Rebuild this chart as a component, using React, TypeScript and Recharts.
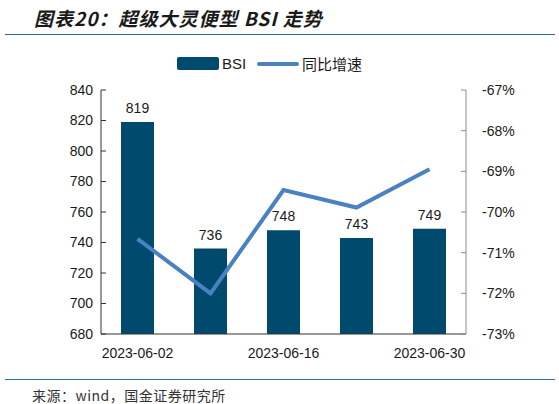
import React from "react";
import {
  Bar,
  ComposedChart,
  LabelList,
  Line,
  XAxis,
  YAxis,
} from "recharts";

const dates = ["2023-06-02", "2023-06-09", "2023-06-16", "2023-06-23", "2023-06-30"];
const bsi = [819, 736, 748, 743, 749];
const yoy = [-70.66, -72.0, -69.46, -69.89, -68.95];
const leftTicks = [680, 700, 720, 740, 760, 780, 800, 820, 840];
const rightTicks = [-73, -72, -71, -70, -69, -68, -67];
const edgeTicks = [0, 1, 2, 3, 4, 5];
const seriesNames = ["BSI", "同比增速"];

const BAR = "#004a6e";
const LINE = "#4a81c0";
const RULE = "#2b6f99";
const FONT = "'Liberation Sans', Arial, sans-serif";
const CJK = "'Noto Sans CJK SC', sans-serif";

const data = dates.map((date, i) => ({ date, bsi: bsi[i], yoy: yoy[i] }));

export default function App() {
  const tickStyle = { fontSize: 14, fill: "#1a1a1a", fontFamily: FONT };
  return (
    <div
      style={{
        position: "absolute",
        left: 0,
        top: 0,
        width: 559,
        height: 404,
        background: "#fff",
        fontFamily: FONT,
      }}
    >
      <div
        style={{
          position: "absolute",
          left: 34,
          top: 5,
          fontSize: 19,
          fontWeight: 700,
          fontStyle: "italic",
          fontFamily: CJK,
          color: "#1a1a1a",
          letterSpacing: 1,
          whiteSpace: "pre",
          lineHeight: "26px",
        }}
      >
        图表20：超级大灵便型 BSI 走势
      </div>
      <div
        style={{
          position: "absolute",
          left: 5,
          top: 34,
          width: 550,
          borderTop: `1.5px solid ${RULE}`,
        }}
      />

      {/* legend */}
      <div
        style={{
          position: "absolute",
          left: 177,
          top: 57,
          width: 42,
          height: 13,
          background: BAR,
          borderRadius: 2,
        }}
      />
      <div
        style={{
          position: "absolute",
          left: 222,
          top: 55,
          fontSize: 15,
          lineHeight: "18px",
          color: "#1a1a1a",
        }}
      >
        {seriesNames[0]}
      </div>
      <div
        style={{
          position: "absolute",
          left: 257,
          top: 62,
          width: 42,
          height: 4,
          background: LINE,
          borderRadius: 2,
        }}
      />
      <div
        style={{
          position: "absolute",
          left: 302,
          top: 54,
          fontSize: 15,
          lineHeight: "20px",
          fontFamily: CJK,
          color: "#1a1a1a",
        }}
      >
        {seriesNames[1]}
      </div>

      <div style={{ position: "absolute", left: 0, top: 0 }}>
        <ComposedChart
          width={559}
          height={404}
          data={data}
          margin={{ top: 90, right: 0, bottom: 40, left: 0 }}
        >
          <XAxis
            xAxisId="edge"
            type="number"
            domain={[0, 5]}
            ticks={edgeTicks}
            allowDataOverflow
            height={0}
            axisLine={false}
            tick={() => <g />}
            tickSize={-5}
            tickLine={{ stroke: "#333" }}
          />
          <XAxis
            dataKey="date"
            interval={1}
            height={30}
            tickLine={false}
            tickMargin={8}
            axisLine={{ stroke: "#333" }}
            tick={tickStyle}
          />
          <YAxis
            yAxisId="left"
            orientation="left"
            width={101}
            domain={[680, 840]}
            ticks={leftTicks}
            interval={0}
            tickSize={-5}
            tickMargin={13}
            axisLine={{ stroke: "#333" }}
            tickLine={{ stroke: "#333" }}
            tick={tickStyle}
          />
          <YAxis
            yAxisId="right"
            orientation="right"
            width={93}
            domain={[-73, -67]}
            ticks={rightTicks}
            interval={0}
            tickSize={-5}
            tickMargin={21}
            tickFormatter={(v: number) => `${v}%`}
            axisLine={{ stroke: "#8c8c8c" }}
            tickLine={{ stroke: "#8c8c8c" }}
            tick={tickStyle}
          />
          <Bar
            yAxisId="left"
            dataKey="bsi"
            name={seriesNames[0]}
            fill={BAR}
            barSize={33}
            isAnimationActive={false}
          >
            <LabelList
              dataKey="bsi"
              position="top"
              offset={9}
              style={{ fontSize: 14, fill: "#1a1a1a", fontFamily: FONT }}
            />
          </Bar>
          <Line
            yAxisId="right"
            dataKey="yoy"
            name={seriesNames[1]}
            type="linear"
            stroke={LINE}
            strokeWidth={4}
            dot={false}
            isAnimationActive={false}
          />
        </ComposedChart>
      </div>

      <div
        style={{
          position: "absolute",
          left: 5,
          top: 379,
          width: 550,
          borderTop: `1.5px solid ${RULE}`,
        }}
      />
      <div
        style={{
          position: "absolute",
          left: 32,
          top: 386,
          fontSize: 14,
          lineHeight: "18px",
          fontFamily: CJK,
          color: "#333",
          letterSpacing: 0.5,
          whiteSpace: "nowrap",
        }}
      >
        来源：wind，国金证券研究所
      </div>
    </div>
  );
}
